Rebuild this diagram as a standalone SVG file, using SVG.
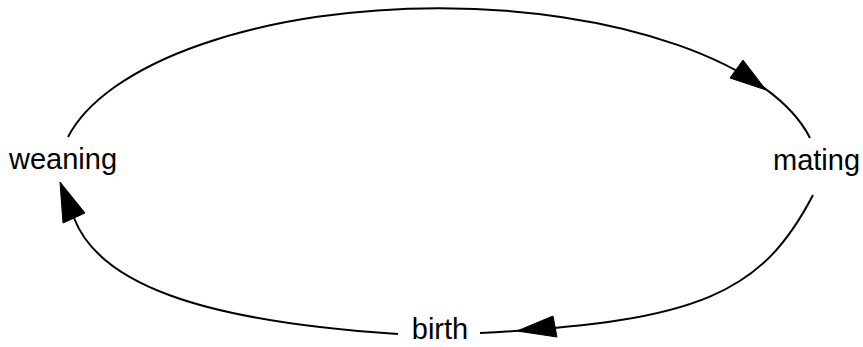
<svg xmlns="http://www.w3.org/2000/svg" width="863" height="347" viewBox="0 0 863 347">
<style>
.lbl{font-family:"Liberation Sans",Arial,Helvetica,sans-serif;font-size:29px;fill:#000;text-anchor:middle}
.edge{fill:none;stroke:#000;stroke-width:2}
.head{fill:#000;stroke:#000;stroke-width:1}
</style>
<rect width="863" height="347" fill="#fff"/>
<g id="connectors">
<path class="edge" d="M68,137 A380,165 0 0 1 810,138"/>
<polygon class="head" points="743,60 730,78 766,90"/>
<path class="edge" d="M813,195 C762,293 700,322 480,333"/>
<polygon class="head" points="553,316 557,337 517,331"/>
<path class="edge" d="M398,334 C198,321 99,283 74,218"/>
<polygon class="head" points="63,223 85,213 60,182"/>
</g>
<g id="weaning"><text class="lbl" x="63" y="169">weaning</text></g>
<g id="mating"><text class="lbl" x="816.5" y="170">mating</text></g>
<g id="birth"><text class="lbl" x="440" y="339">birth</text></g>
</svg>
